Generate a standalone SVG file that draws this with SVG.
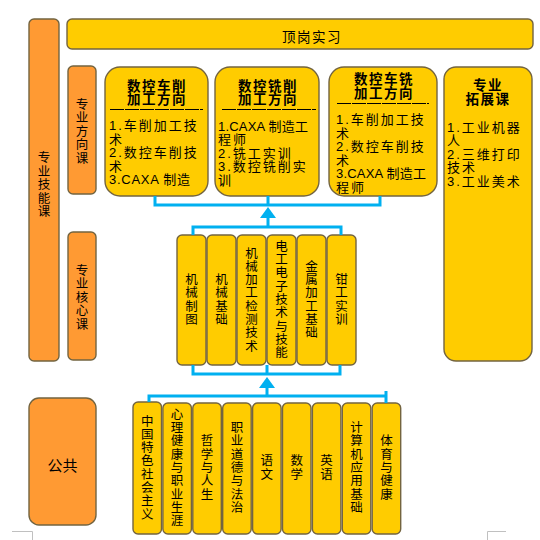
<svg xmlns="http://www.w3.org/2000/svg" width="540" height="540" viewBox="0 0 540 540">
<defs>
<style>
.y{fill:#FFCC00;stroke:#736440;stroke-width:1.4}
.o{fill:#FF9A33;stroke:#736440;stroke-width:1.4}
.t{font-family:"Liberation Sans","Noto Sans CJK SC",sans-serif;fill:#000}
.v{font-size:12.5px;text-anchor:middle;dominant-baseline:central}
.h{font-size:13.5px;text-anchor:middle;font-weight:bold;letter-spacing:1.5px}
.b{font-size:13px;letter-spacing:2px}
.c{fill:none;stroke:#00B0F0;stroke-width:3}
.d{stroke:#000;stroke-width:1;stroke-dasharray:14 1}
.a{fill:#00B0F0}
.m{stroke:#c0c0c0;stroke-width:1;fill:none}
</style>
</defs>
<rect width="540" height="540" fill="#fff"/>

<g id="skill">
<rect class="o" x="29" y="19" width="30" height="342" rx="5"/>
<text class="t v"><tspan x="44" y="158">专</tspan><tspan x="44" y="171.5">业</tspan><tspan x="44" y="185">技</tspan><tspan x="44" y="198.5">能</tspan><tspan x="44" y="212">课</tspan></text>
</g>
<g id="direction-label">
<rect class="o" x="68" y="66" width="28" height="128" rx="5"/>
<text class="t v"><tspan x="82" y="104.5">专</tspan><tspan x="82" y="118">业</tspan><tspan x="82" y="131.5">方</tspan><tspan x="82" y="145">向</tspan><tspan x="82" y="158.5">课</tspan></text>
</g>
<g id="core-label">
<rect class="o" x="68" y="232" width="28" height="128" rx="5"/>
<text class="t v"><tspan x="82" y="270.5">专</tspan><tspan x="82" y="284">业</tspan><tspan x="82" y="297.5">核</tspan><tspan x="82" y="311">心</tspan><tspan x="82" y="324.5">课</tspan></text>
</g>
<g id="public-label">
<rect class="o" x="29" y="398" width="67" height="127" rx="10"/>
<text class="t" x="62.5" y="471" font-size="15" text-anchor="middle">公共</text>
</g>

<g id="internship">
<rect class="y" x="67" y="19" width="466" height="30" rx="5"/>
<text class="t" x="312" y="42" font-size="13.5" letter-spacing="1.5" text-anchor="middle">顶岗实习</text>
</g>

<g id="dir1">
<rect class="y" x="105" y="67" width="103" height="129" rx="15"/>
<text class="t h" x="157" y="90.5">数控车削</text>
<text class="t h" x="157" y="104">加工方向</text>
<line class="d" x1="110" y1="109.5" x2="203" y2="109.5"/>
<text class="t b" x="109" y="130">1.车削加工技</text>
<text class="t b" x="109" y="143.5">术</text>
<text class="t b" x="109" y="157">2.数控车削技</text>
<text class="t b" x="109" y="170.5">术</text>
<text class="t b" x="109" y="184" textLength="83">3.CAXA 制造</text>
</g>
<g id="dir2">
<rect class="y" x="215" y="67" width="104" height="129" rx="15"/>
<text class="t h" x="268" y="90.5">数控铣削</text>
<text class="t h" x="268" y="104">加工方向</text>
<line class="d" x1="222" y1="109.5" x2="316" y2="109.5"/>
<text class="t b" x="218" y="130.5" textLength="92">1.CAXA 制造工</text>
<text class="t b" x="218" y="144">程师</text>
<text class="t b" x="218" y="157.5">2.铣工实训</text>
<text class="t b" x="218" y="171">3.数控铣削实</text>
<text class="t b" x="218" y="184.5">训</text>
</g>
<g id="dir3">
<rect class="y" x="329" y="67" width="108" height="129" rx="15"/>
<text class="t h" x="384" y="84">数控车铣</text>
<text class="t h" x="384" y="97.5">加工方向</text>
<line class="d" x1="337" y1="103.5" x2="429" y2="103.5"/>
<text class="t b" x="336" y="124">1.车削加工技</text>
<text class="t b" x="336" y="137.5">术</text>
<text class="t b" x="336" y="151">2.数控车削技</text>
<text class="t b" x="336" y="164.5">术</text>
<text class="t b" x="336" y="178" textLength="92">3.CAXA 制造工</text>
<text class="t b" x="336" y="191.5">程师</text>
</g>
<g id="extension">
<rect class="y" x="444" y="67" width="88" height="294" rx="12"/>
<text class="t h" x="488" y="90">专业</text>
<text class="t h" x="488" y="104">拓展课</text>
<text class="t b" x="447" y="131.5">1.工业机器</text>
<text class="t b" x="447" y="145">人</text>
<text class="t b" x="447" y="158.5">2.三维打印</text>
<text class="t b" x="447" y="172">技术</text>
<text class="t b" x="447" y="185.5">3.工业美术</text>
</g>

<g id="core1"><rect class="y" x="177" y="235" width="29" height="130" rx="5"/>
<text class="t v"><tspan x="191.5" y="280">机</tspan><tspan x="191.5" y="293.3">械</tspan><tspan x="191.5" y="306.7">制</tspan><tspan x="191.5" y="320">图</tspan></text></g>
<g id="core2"><rect class="y" x="207" y="235" width="29" height="130" rx="5"/>
<text class="t v"><tspan x="221.5" y="280">机</tspan><tspan x="221.5" y="293.3">械</tspan><tspan x="221.5" y="306.7">基</tspan><tspan x="221.5" y="320">础</tspan></text></g>
<g id="core3"><rect class="y" x="237" y="235" width="29" height="130" rx="5"/>
<text class="t v"><tspan x="251.5" y="253.5">机</tspan><tspan x="251.5" y="266.8">械</tspan><tspan x="251.5" y="280">加</tspan><tspan x="251.5" y="293.3">工</tspan><tspan x="251.5" y="306.7">检</tspan><tspan x="251.5" y="320">测</tspan><tspan x="251.5" y="333.3">技</tspan><tspan x="251.5" y="346.5">术</tspan></text></g>
<g id="core4"><rect class="y" x="267" y="235" width="29" height="130" rx="5"/>
<text class="t v"><tspan x="281.5" y="246.8">电</tspan><tspan x="281.5" y="260.1">工</tspan><tspan x="281.5" y="273.4">电</tspan><tspan x="281.5" y="286.7">子</tspan><tspan x="281.5" y="300">技</tspan><tspan x="281.5" y="313.3">术</tspan><tspan x="281.5" y="326.6">与</tspan><tspan x="281.5" y="339.9">技</tspan><tspan x="281.5" y="353.2">能</tspan></text></g>
<g id="core5"><rect class="y" x="297" y="235" width="29" height="130" rx="5"/>
<text class="t v"><tspan x="311.5" y="266.8">金</tspan><tspan x="311.5" y="280">属</tspan><tspan x="311.5" y="293.3">加</tspan><tspan x="311.5" y="306.7">工</tspan><tspan x="311.5" y="320">基</tspan><tspan x="311.5" y="333.3">础</tspan></text></g>
<g id="core6"><rect class="y" x="327" y="235" width="29" height="130" rx="5"/>
<text class="t v"><tspan x="341.5" y="280">钳</tspan><tspan x="341.5" y="293.3">工</tspan><tspan x="341.5" y="306.7">实</tspan><tspan x="341.5" y="320">训</tspan></text></g>

<g id="pub1"><rect class="y" x="133" y="402" width="28.5" height="132" rx="5"/>
<text class="t v"><tspan x="147.2" y="421.5">中</tspan><tspan x="147.2" y="434.8">国</tspan><tspan x="147.2" y="448">特</tspan><tspan x="147.2" y="461.3">色</tspan><tspan x="147.2" y="474.7">社</tspan><tspan x="147.2" y="488">会</tspan><tspan x="147.2" y="501.3">主</tspan><tspan x="147.2" y="514.5">义</tspan></text></g>
<g id="pub2"><rect class="y" x="162.9" y="403" width="28.5" height="131" rx="5"/>
<text class="t v"><tspan x="177.1" y="414.8">心</tspan><tspan x="177.1" y="428.1">理</tspan><tspan x="177.1" y="441.4">健</tspan><tspan x="177.1" y="454.7">康</tspan><tspan x="177.1" y="468">与</tspan><tspan x="177.1" y="481.3">职</tspan><tspan x="177.1" y="494.6">业</tspan><tspan x="177.1" y="507.9">生</tspan><tspan x="177.1" y="521.2">涯</tspan></text></g>
<g id="pub3"><rect class="y" x="192.8" y="403" width="28.5" height="131" rx="5"/>
<text class="t v"><tspan x="207" y="441.4">哲</tspan><tspan x="207" y="454.7">学</tspan><tspan x="207" y="468">与</tspan><tspan x="207" y="481.3">人</tspan><tspan x="207" y="494.6">生</tspan></text></g>
<g id="pub4"><rect class="y" x="222.7" y="403" width="28.5" height="131" rx="5"/>
<text class="t v"><tspan x="236.9" y="428.1">职</tspan><tspan x="236.9" y="441.4">业</tspan><tspan x="236.9" y="454.7">道</tspan><tspan x="236.9" y="468">德</tspan><tspan x="236.9" y="481.3">与</tspan><tspan x="236.9" y="494.6">法</tspan><tspan x="236.9" y="507.9">治</tspan></text></g>
<g id="pub5"><rect class="y" x="252.6" y="403" width="28.5" height="131" rx="5"/>
<text class="t v"><tspan x="266.8" y="461.4">语</tspan><tspan x="266.8" y="474.7">文</tspan></text></g>
<g id="pub6"><rect class="y" x="282.5" y="403" width="28.5" height="131" rx="5"/>
<text class="t v"><tspan x="296.7" y="461.4">数</tspan><tspan x="296.7" y="474.7">学</tspan></text></g>
<g id="pub7"><rect class="y" x="312.4" y="403" width="28.5" height="131" rx="5"/>
<text class="t v"><tspan x="326.6" y="461.4">英</tspan><tspan x="326.6" y="474.7">语</tspan></text></g>
<g id="pub8"><rect class="y" x="342.3" y="403" width="28.5" height="131" rx="5"/>
<text class="t v"><tspan x="356.5" y="428.1">计</tspan><tspan x="356.5" y="441.4">算</tspan><tspan x="356.5" y="454.7">机</tspan><tspan x="356.5" y="468">应</tspan><tspan x="356.5" y="481.3">用</tspan><tspan x="356.5" y="494.6">基</tspan><tspan x="356.5" y="507.9">础</tspan></text></g>
<g id="pub9"><rect class="y" x="372.2" y="403" width="28.5" height="131" rx="5"/>
<text class="t v"><tspan x="386.4" y="441.4">体</tspan><tspan x="386.4" y="454.7">育</tspan><tspan x="386.4" y="468">与</tspan><tspan x="386.4" y="481.3">健</tspan><tspan x="386.4" y="494.6">康</tspan></text></g>

<g id="connectors">
<path class="c" d="M155 196V205H380V196M268 196V205"/>
<path class="c" d="M268 218V227M193 235V227H341V235"/>
<path class="a" d="M268 207L276 218H260Z"/>
<path class="c" d="M193 365V374H340V365M267 365V374"/>
<path class="c" d="M267 388V396M149 402V396H386M386 391V403"/>
<path class="a" d="M267 377L275 388H259Z"/>
</g>

<g id="marks">
<path class="m" d="M12 531.5H32.5V540M506 531.5H487.5V540"/>
</g>
</svg>
